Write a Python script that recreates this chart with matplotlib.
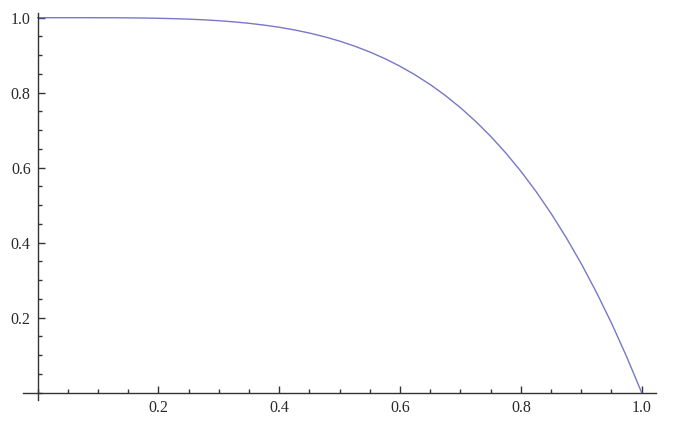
import matplotlib
matplotlib.use('Agg')
import matplotlib.pyplot as plt
from matplotlib.ticker import MultipleLocator, FixedLocator

plt.rcParams['font.family'] = ['Liberation Serif', 'DejaVu Serif']

# values
x = [0.0, 0.025, 0.05, 0.075, 0.1, 0.125, 0.15, 0.175, 0.2, 0.225,
     0.25, 0.275, 0.3, 0.325, 0.35, 0.375, 0.4, 0.425, 0.45, 0.475,
     0.5, 0.525, 0.55, 0.575, 0.6, 0.625, 0.65, 0.675, 0.7, 0.725,
     0.75, 0.775, 0.8, 0.825, 0.85, 0.875, 0.9, 0.925, 0.95, 0.975, 1.0]
y = [1.0, 1.0, 1.0, 1.0, 0.9999, 0.9998, 0.9995, 0.9991, 0.9984, 0.9974,
     0.9961, 0.9943, 0.9919, 0.9888, 0.9850, 0.9802, 0.9744, 0.9674, 0.9590, 0.9491,
     0.9375, 0.9240, 0.9085, 0.8907, 0.8704, 0.8474, 0.8215, 0.7924, 0.7599, 0.7237,
     0.6836, 0.6393, 0.5904, 0.5368, 0.4780, 0.4138, 0.3439, 0.2679, 0.1855, 0.0963, 0.0]

xticks = [0.2, 0.4, 0.6, 0.8, 1.0]
yticks = [0.2, 0.4, 0.6, 0.8, 1.0]

fig = plt.figure(figsize=(6.76, 4.29), dpi=100)
ax = fig.add_axes([23/676, 29/429, (656-23)/676, (416-29)/429])

ax.plot(x, y, color='#7878c6', lw=1.0)

ax.set_xlim(-0.0243, 1.0237)
ax.set_ylim(-0.0195, 1.0125)

for s in ['top', 'right']:
    ax.spines[s].set_visible(False)
ax.spines['left'].set_position(('data', 0))
ax.spines['bottom'].set_position(('data', 0))
for s in ['left', 'bottom']:
    ax.spines[s].set_color('#333333')
    ax.spines[s].set_linewidth(1.0)

ax.xaxis.set_major_locator(FixedLocator(xticks))
ax.yaxis.set_major_locator(FixedLocator(yticks))
ax.xaxis.set_minor_locator(MultipleLocator(0.05))
ax.yaxis.set_minor_locator(MultipleLocator(0.05))
ax.set_xticklabels(['%.1f' % v for v in xticks])
ax.set_yticklabels(['%.1f' % v for v in yticks])

ax.tick_params(which='both', direction='in', color='#333333', width=1.0,
               labelsize=11.5, labelcolor='#2a2a2a')
ax.tick_params(which='major', length=5, pad=5)
ax.tick_params(which='minor', length=3)

plt.savefig('out.png', dpi=100)
